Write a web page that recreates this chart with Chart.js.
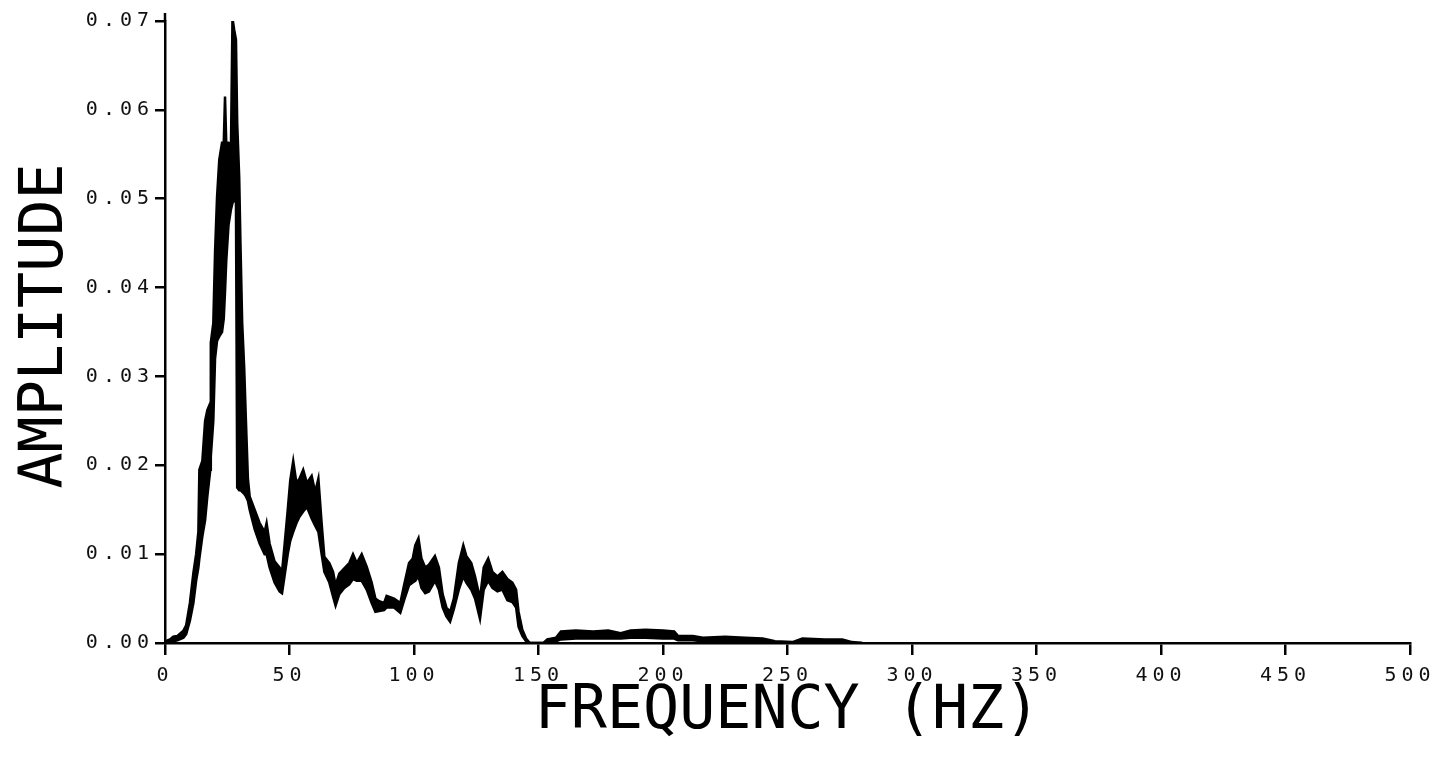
<!DOCTYPE html>
<html>
<head>
<meta charset="utf-8">
<script src="https://cdn.jsdelivr.net/npm/chart.js@4.4.1/dist/chart.umd.min.js"></script>
<style>
  html, body { margin: 0; padding: 0; background: #fff; }
  #wrap { width: 1452px; height: 758px; position: relative; }
</style>
</head>
<body>
<div id="wrap"><canvas id="spectrum"></canvas></div>
<script>
"use strict";
// spectrum trace, read as an envelope: top and bottom of the noisy band at each frequency
var freqHz = [
  0, 1, 2, 3.3, 5, 7.4, 8.5, 10, 11.4, 12.5, 13.4, 13.8, 15, 16.1, 17, 18.2, 18.4, 19.4,
  20.1, 20.9, 21.8, 22.9, 23.6, 24.1, 24.6, 25.5, 26.5, 27.1, 27.8, 28.5, 29, 29.8, 30.3,
  31, 31.8, 32.5, 33.3, 34, 36, 38, 40, 40.8, 42, 44, 46, 47, 48, 49.3, 50.3, 51.5, 52.8,
  54, 55.5, 57, 58.9, 60.3, 61.6, 62.9, 64, 66, 67.5, 68.5, 70, 72, 74, 75.5, 77, 79, 81,
  83, 84.5, 86, 88, 89, 92, 94.5, 96, 98, 99.5, 100.5, 101.8, 103, 104.5, 106, 108.4, 110,
  111.5, 113, 114.5, 116, 118, 119.8, 121, 123, 124.5, 126.5, 128, 129.8, 131.5, 133.5,
  135.5, 137.5, 139.5, 141, 142, 143.5, 145, 146.5, 152, 153.5, 157, 159, 165, 172, 178,
  183, 187, 193, 200, 204.5, 206, 212, 216, 225, 233, 240, 245, 252, 256, 265, 272, 276, 280
];
var ampHigh = [
  0, 0.0003, 0.0004, 0.0007, 0.0008, 0.0014, 0.0020, 0.0045, 0.0079, 0.0100, 0.0125, 0.0195, 0.0205, 0.0250, 0.0262, 0.0270, 0.0338, 0.0360,
  0.0440, 0.0502, 0.0544, 0.0563, 0.0563, 0.0615, 0.0563, 0.0563, 0.0560, 0.0703, 0.0690, 0.0679, 0.0585, 0.0524, 0.0450,
  0.0360, 0.0310, 0.0250, 0.0185, 0.0165, 0.0150, 0.0135, 0.0125, 0.0135, 0.0112, 0.0092, 0.0085, 0.0080, 0.0110, 0.0150, 0.0183, 0.0205, 0.0180,
  0.0185, 0.0195, 0.0180, 0.0188, 0.0170, 0.0185, 0.0135, 0.0097, 0.0090, 0.0080, 0.0065, 0.0078, 0.0084, 0.0090, 0.0100, 0.0090, 0.0100, 0.0086,
  0.0068, 0.0050, 0.0047, 0.0045, 0.0053, 0.0050, 0.0045, 0.0065, 0.0090, 0.0095, 0.0110, 0.0118, 0.0095, 0.0085, 0.0088, 0.0098, 0.0085,
  0.0055, 0.0040, 0.0035, 0.0050, 0.0090, 0.0110, 0.0098, 0.0090, 0.0075, 0.0050, 0.0085, 0.0095, 0.0080, 0.0075,
  0.0080, 0.0072, 0.0068, 0.0060, 0.0035, 0.0015, 0.0005, 0, 0, 0.0004, 0.0006, 0.0013, 0.0014, 0.0013, 0.0014,
  0.0011, 0.0014, 0.0015, 0.0014, 0.0013, 0.0008, 0.0008, 0.0006, 0.0007, 0.0006, 0.0005, 0.0002, 0.0001, 0.0005, 0.0004, 0.0004, 0.0001, 0
];
var ampLow = [
  0, 0, 0.0001, 0.0002, 0.0003, 0.0006, 0.0010, 0.0025, 0.0045, 0.0070, 0.0085, 0.0095, 0.0120, 0.0138, 0.0165, 0.0195, 0.0210, 0.0250,
  0.0320, 0.0340, 0.0345, 0.0350, 0.0365, 0.0395, 0.0430, 0.0470, 0.0488, 0.0495, 0.0500, 0.0495, 0.0175, 0.0172, 0.0172,
  0.0170, 0.0168, 0.0165, 0.0160, 0.0150, 0.0128, 0.0112, 0.0100, 0.0100, 0.0085, 0.0068, 0.0058, 0.0056, 0.0075, 0.0100, 0.0115, 0.0125, 0.0135,
  0.0142, 0.0148, 0.0153, 0.0140, 0.0132, 0.0125, 0.0100, 0.0080, 0.0068, 0.0052, 0.0042, 0.0055, 0.0062, 0.0066, 0.0072, 0.0070, 0.0070, 0.0060,
  0.0045, 0.0035, 0.0036, 0.0037, 0.0040, 0.0040, 0.0034, 0.0048, 0.0065, 0.0068, 0.0070, 0.0075, 0.0062, 0.0056, 0.0058, 0.0070, 0.0060,
  0.0040, 0.0030, 0.0024, 0.0038, 0.0060, 0.0075, 0.0068, 0.0060, 0.0050, 0.0027, 0.0060, 0.0070, 0.0062, 0.0058,
  0.0060, 0.0048, 0.0046, 0.0040, 0.0018, 0.0008, 0.0002, 0, 0, 0.0001, 0.0002, 0.0004, 0.0005, 0.0005, 0.0005,
  0.0005, 0.0006, 0.0006, 0.0005, 0.0005, 0.0003, 0.0003, 0.0002, 0.0002, 0.0002, 0.0001, 0, 0, 0.0001, 0.0001, 0.0001, 0, 0
];
var xTicks = [0, 50, 100, 150, 200, 250, 300, 350, 400, 450, 500];
var yTicks = [0, 0.01, 0.02, 0.03, 0.04, 0.05, 0.06, 0.07];
var xTitle = "FREQUENCY (HZ)";
var yTitle = "AMPLITUDE";

var ink = "#000";
var titleFont = '60px "DejaVu Sans Mono"';

function pts(ys) {
  return freqHz.map(function (f, i) { return { x: f, y: ys[i] }; });
}

// axis titles drawn by hand so the tick labels can have their own letter spacing
var plotterText = {
  id: "plotterText",
  beforeDraw: function (chart) {
    chart.ctx.letterSpacing = "5px";
  },
  afterDraw: function (chart) {
    var c = chart.ctx, a = chart.chartArea;
    c.save();
    c.letterSpacing = "0px";
    c.fillStyle = ink;
    c.font = titleFont;
    c.textAlign = "center";
    c.textBaseline = "alphabetic";
    c.fillText(xTitle, (a.left + a.right) / 2, 728);
    c.translate(62, (a.top + a.bottom) / 2 - 6);
    c.rotate(-Math.PI / 2);
    c.fillText(yTitle, 0, 0);
    c.restore();
    // the vertical axis runs a little past the top tick
    c.save();
    c.strokeStyle = ink;
    c.lineWidth = 2.5;
    c.beginPath();
    c.moveTo(a.left, a.top);
    c.lineTo(a.left, a.top - 8);
    c.stroke();
    c.restore();
  },
};

new Chart(document.getElementById("spectrum").getContext("2d"), {
  type: "line",
  data: {
    datasets: [
      {
        label: "high",
        data: pts(ampHigh),
        borderColor: ink,
        borderWidth: 2.5,
        pointRadius: 0,
        tension: 0,
        fill: "+1",
        backgroundColor: ink,
      },
      {
        label: "low",
        data: pts(ampLow),
        borderColor: ink,
        borderWidth: 2.5,
        pointRadius: 0,
        tension: 0,
        fill: false,
      },
    ],
  },
  options: {
    responsive: true,
    maintainAspectRatio: false,
    animation: false,
    layout: { padding: { left: 0, right: 42, top: 21, bottom: 0 } },
    plugins: { legend: { display: false }, tooltip: { enabled: false } },
    scales: {
      x: {
        type: "linear",
        min: 0,
        max: 500,
        afterBuildTicks: function (s) { s.ticks = xTicks.map(function (v) { return { value: v }; }); },
        afterFit: function (s) { s.height = 115; },
        border: { display: true, color: ink, width: 2.5 },
        grid: { drawOnChartArea: false, color: ink, lineWidth: 2.5, tickLength: 12 },
        ticks: {
          color: "#111",
          padding: 9,
          maxRotation: 0,
          font: { family: "DejaVu Sans Mono", size: 20 },
        },
      },
      y: {
        type: "linear",
        min: 0,
        max: 0.07,
        afterBuildTicks: function (s) { s.ticks = yTicks.map(function (v) { return { value: v }; }); },
        afterFit: function (s) { s.width = 165; },
        border: { display: true, color: ink, width: 2.5 },
        grid: { drawOnChartArea: false, color: ink, lineWidth: 2.5, tickLength: 10 },
        ticks: {
          color: "#111",
          padding: 1,
          font: { family: "DejaVu Sans Mono", size: 20 },
          callback: function (v) { return v.toFixed(2); },
        },
      },
    },
  },
  plugins: [plotterText],
});
</script>
</body>
</html>
